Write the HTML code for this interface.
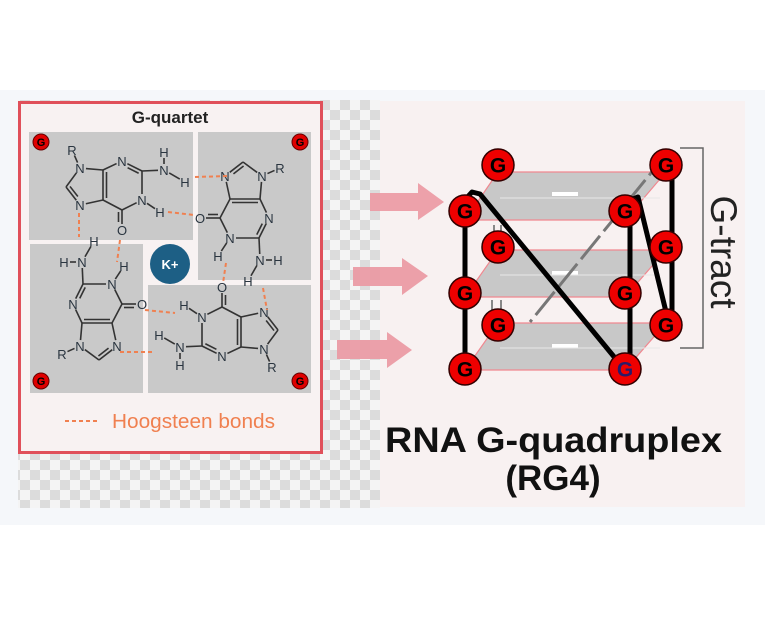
<!DOCTYPE html>
<html><head><meta charset="utf-8">
<style>
html,body{margin:0;padding:0;background:#fff;}
body{width:765px;height:615px;position:relative;overflow:hidden;font-family:"Liberation Sans",sans-serif;}
</style></head>
<body>
<svg id="s" width="765" height="615" viewBox="0 0 765 615" xmlns="http://www.w3.org/2000/svg" font-family="Liberation Sans, sans-serif">
<defs>
<pattern id="chk" x="0" y="0" width="20" height="20" patternUnits="userSpaceOnUse">
<rect width="20" height="20" fill="#f4f4f4"/>
<rect width="10" height="10" fill="#dcdcdc"/>
<rect x="10" y="10" width="10" height="10" fill="#dcdcdc"/>
</pattern>
</defs>
<rect x="0" y="90" width="765" height="435" fill="#f5f7fa"/>
<rect x="18" y="100" width="362" height="408" fill="url(#chk)"/>
<rect x="380" y="101" width="365" height="406" fill="#f8f1f1"/>
<!-- left box -->
<rect x="19.5" y="102.5" width="302" height="350" fill="#f8f2f2" stroke="#e0505a" stroke-width="3"/>
<text x="170" y="123" text-anchor="middle" font-size="17" font-weight="bold" fill="#222">G-quartet</text>
<rect x="29" y="132" width="164" height="108" fill="#c9c9c9"/>
<rect x="198" y="132" width="113" height="148" fill="#c9c9c9"/>
<rect x="30" y="244" width="113" height="149" fill="#c9c9c9"/>
<rect x="148" y="285" width="163" height="108" fill="#c9c9c9"/>
<g id="chem"></g>
<g stroke="#f08050" stroke-width="2" stroke-dasharray="4,3" fill="none">
<line x1="195" y1="177" x2="228" y2="176"/>
<line x1="168" y1="212" x2="194" y2="215"/>
<line x1="79" y1="213" x2="79" y2="237"/>
<line x1="120" y1="240" x2="117" y2="262"/>
<line x1="226" y1="263" x2="223" y2="283"/>
<line x1="263" y1="288" x2="267" y2="310"/>
<line x1="145" y1="310" x2="175" y2="313"/>
<line x1="120" y1="352" x2="152" y2="352"/>
<line x1="65" y1="421" x2="98" y2="421"/>
</g>
<circle cx="170" cy="264" r="20" fill="#1d5f85"/>
<text x="170" y="269" text-anchor="middle" font-size="13" font-weight="bold" fill="#fff">K+</text>
<g font-size="11" font-weight="bold" text-anchor="middle" fill="#000">
<circle cx="41" cy="142" r="8" fill="#e00000" stroke="#600" stroke-width="1"/><text x="41" y="146">G</text>
<circle cx="300" cy="142" r="8" fill="#e00000" stroke="#600" stroke-width="1"/><text x="300" y="146">G</text>
<circle cx="41" cy="381" r="8" fill="#e00000" stroke="#600" stroke-width="1"/><text x="41" y="385">G</text>
<circle cx="300" cy="381" r="8" fill="#e00000" stroke="#600" stroke-width="1"/><text x="300" y="385">G</text>
</g>
<text x="112" y="428" font-size="20" fill="#f08050" textLength="163" lengthAdjust="spacingAndGlyphs">Hoogsteen bonds</text>
<!-- arrows -->
<g fill="#eb98a2" opacity="0.9">
<polygon points="370,193 418,193 418,183 444,202 418,220 418,211 370,211"/>
<polygon points="353,267 402,267 402,258 428,276 402,295 402,286 353,286"/>
<polygon points="337,340 387,340 387,332 412,350 387,368 387,359 337,359"/>
</g>
<!-- planes -->
<g fill="#c8c8c8" stroke="#f08890" stroke-width="1.2">
<polygon points="498,172 666,172 625,220 465,220"/>
<polygon points="498,250 666,250 625,297 465,297"/>
<polygon points="498,323 666,323 625,370 465,370"/>
</g>
<g stroke="#ffffff" stroke-width="4">
<line x1="552" y1="194" x2="578" y2="194"/><line x1="552" y1="273" x2="578" y2="273"/><line x1="552" y1="346" x2="578" y2="346"/>
</g>
<g stroke="#e8e8e8" stroke-width="1"><line x1="500" y1="198" x2="660" y2="198"/><line x1="500" y1="275" x2="660" y2="275"/><line x1="500" y1="348" x2="660" y2="348"/></g>
<!-- back lines -->
<line x1="668" y1="152" x2="530" y2="322" stroke="#777" stroke-width="3" stroke-dasharray="30,6"/>
<g stroke="#888" stroke-width="2"><line x1="494" y1="225" x2="494" y2="245"/><line x1="501" y1="225" x2="501" y2="245"/><line x1="492" y1="300" x2="492" y2="322"/><line x1="501" y1="300" x2="501" y2="322"/></g>
<!-- black strands -->
<g stroke="#000" stroke-width="5" fill="none" stroke-linecap="round" stroke-linejoin="round">
<line x1="465" y1="211" x2="465" y2="369"/>
<polyline points="463,202 472,192 480,194 620,364"/>
<line x1="630" y1="205" x2="630" y2="369"/>
<polyline points="630,200 638,197 668,320"/>
<line x1="672" y1="165" x2="672" y2="325"/>
</g>
<!-- G nodes -->
<g id="gn" font-size="21" font-weight="bold" text-anchor="middle" fill="#000"></g>
<!-- bracket -->
<polyline points="680,148 703,148 703,348 680,348" fill="none" stroke="#666" stroke-width="1.5"/>
<text transform="translate(711,252) rotate(90)" text-anchor="middle" font-size="37" fill="#222">G-tract</text>
<text x="385" y="452" font-size="35" font-weight="bold" fill="#111" textLength="337" lengthAdjust="spacingAndGlyphs">RNA G-quadruplex</text>
<text x="553" y="490" text-anchor="middle" font-size="35" font-weight="bold" fill="#111">(RG4)</text>
</svg>
<script>
var NS="http://www.w3.org/2000/svg";
function el(p,t,a,txt){var e=document.createElementNS(NS,t);for(var k in a)e.setAttribute(k,a[k]);if(txt)e.textContent=txt;p.appendChild(e);return e;}
var gn=document.getElementById("gn");
[[498,165],[666,165],[465,211],[625,211],[498,247],[666,247],[465,293],[625,293],[498,325],[666,325],[465,369],[625,369]].forEach(function(p,i){
el(gn,"circle",{cx:p[0],cy:p[1],r:16,fill:"#ee0000",stroke:"#300",'stroke-width':1.5});
var t=el(gn,"text",{x:p[0],y:p[1]+7.5},"G");
if(i==11)t.setAttribute("fill","#2a1a6a");
});
var chem=document.getElementById("chem");
var P={C4:[-19,-15],N3:[0,-24],C2:[20,-14],N1:[20,15],C6:[0,25],C5:[-19,15],N9:[-42,-17],C8:[-56,2],N7:[-42,20],O:[0,45],Na:[42,-15],Ha:[42,-33],Hb:[63,-3],H1:[38,27],R:[-50,-35]};
var lab={N3:"N",N1:"N",N9:"N",N7:"N",O:"O",Na:"N",Ha:"H",Hb:"H",H1:"H",R:"R"};
var bonds=[["C4","N3"],["N3","C2",1],["C2","N1"],["N1","C6"],["C6","C5"],["C5","C4",1],["C4","N9"],["N9","C8"],["C8","N7",1],["N7","C5"],["C6","O",1],["C2","Na"],["Na","Ha"],["Na","Hb"],["N1","H1"],["N9","R"]];
function gua(cx,cy,ang){
var a=ang*Math.PI/180,c=Math.cos(a),s=Math.sin(a);
function t(p){return [cx+p[0]*c-p[1]*s,cy+p[0]*s+p[1]*c];}
var Q={};for(var k in P)Q[k]=t(P[k]);
bonds.forEach(function(b){
var p=Q[b[0]],q=Q[b[1]];
var dx=q[0]-p[0],dy=q[1]-p[1],L=Math.hypot(dx,dy);
var sh1=lab[b[0]]?6:0,sh2=lab[b[1]]?6:0;
var x1=p[0]+dx/L*sh1,y1=p[1]+dy/L*sh1,x2=q[0]-dx/L*sh2,y2=q[1]-dy/L*sh2;
el(chem,"line",{x1:x1,y1:y1,x2:x2,y2:y2,stroke:"#333","stroke-width":1.6});
if(b[2]){var nx=-dy/L*3.5,ny=dx/L*3.5;
var mx=cx-(p[0]+q[0])/2,my=cy-(p[1]+q[1])/2; if(nx*mx+ny*my<0){nx=-nx;ny=-ny;}
if(b[0]=="C6"){nx=-dy/L*3.5;ny=dx/L*3.5;}
el(chem,"line",{x1:x1+nx+dx/L*2,y1:y1+ny+dy/L*2,x2:x2+nx-dx/L*2,y2:y2+ny-dy/L*2,stroke:"#333","stroke-width":1.6});}
});
for(var k in lab){var p=Q[k];
el(chem,"text",{x:p[0],y:p[1]+5,"text-anchor":"middle","font-size":13,fill:"#2a3540"},lab[k]);}
}
gua(122,185,0);
gua(245,218,90);
gua(222,332,180);
gua(97,304,270);
</script>
</body></html>
